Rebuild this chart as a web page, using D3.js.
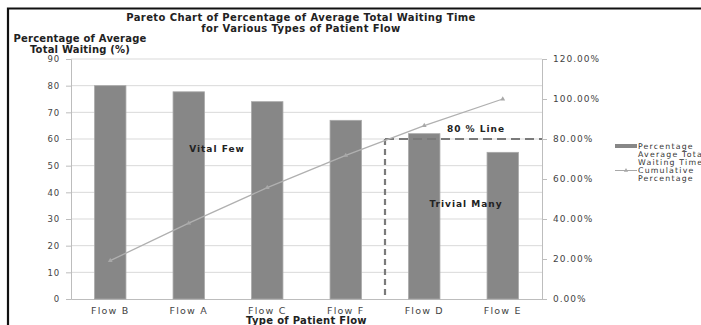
<!DOCTYPE html>
<html>
<head>
<meta charset="utf-8">
<script src="https://cdn.jsdelivr.net/npm/d3@7"></script>
<style>
  html, body { margin: 0; padding: 0; background: #fff; }
  svg { display: block; }
  text { font-family: "DejaVu Sans", Verdana, sans-serif; }
</style>
</head>
<body>
<svg id="chart" width="701" height="325"></svg>
<script>
// Patient flow types, sorted by share of total waiting time
const categories = ["Flow B", "Flow A", "Flow C", "Flow F", "Flow D", "Flow E"];
// Percentage of average total waiting time (%)
const waitingShare = [80, 77.7, 74, 67, 62, 55];
// Cumulative percentage (%)
const cumulative = [19.2, 37.9, 55.7, 71.8, 86.7, 100];
const leftTicks = [0, 10, 20, 30, 40, 50, 60, 70, 80, 90];
const rightTicks = [0, 20, 40, 60, 80, 100, 120];
const cutoff = 80;            // 80 % reference line
const cutoffAfter = "Flow F"; // boundary of the vital few

const svg = d3.select("#chart");
const m = { left: 71, right: 542, top: 59, bottom: 299 };

const x = d3.scaleBand().domain(categories).range([m.left, m.right]).paddingInner(0.6).paddingOuter(0.3);
const y = d3.scaleLinear().domain([0, 90]).range([m.bottom, m.top]);
const y2 = d3.scaleLinear().domain([0, 120]).range([m.bottom, m.top]);

// frame
svg.append("path").attr("d", "M8,325 V8.5 H701")
  .attr("fill", "none").attr("stroke", "#111").attr("stroke-width", 2.2);

// titles
const title = svg.append("text").attr("text-anchor", "middle")
  .attr("font-size", 10).attr("font-weight", "bold").attr("fill", "#222")
  .attr("letter-spacing", 0.4);
title.append("tspan").attr("x", 301).attr("y", 21).text("Pareto Chart of Percentage of Average Total Waiting Time");
title.append("tspan").attr("x", 301).attr("y", 32).text("for Various Types of Patient Flow");

const yTitle = svg.append("text").attr("text-anchor", "middle")
  .attr("font-size", 10).attr("font-weight", "bold").attr("fill", "#222")
  .attr("letter-spacing", 0.2);
yTitle.append("tspan").attr("x", 80).attr("y", 42).text("Percentage of Average");
yTitle.append("tspan").attr("x", 80).attr("y", 53).text("Total Waiting (%)");

// gridlines
svg.append("g").selectAll("line").data(leftTicks.filter(d => d > 0)).join("line")
  .attr("x1", m.left).attr("x2", m.right)
  .attr("y1", d => y(d)).attr("y2", d => y(d))
  .attr("stroke", "#d9d9d9").attr("stroke-width", 1);

const styleTicks = (g, size, ls) => g.selectAll(".tick text")
  .attr("font-size", size).attr("fill", "#444").attr("letter-spacing", ls)
  .attr("font-family", "'DejaVu Sans', sans-serif");

// left axis
const gl = svg.append("g").attr("transform", `translate(${m.left},0)`)
  .call(d3.axisLeft(y).tickValues(leftTicks).tickSize(5).tickPadding(6));
gl.select(".domain").attr("stroke", "#bdbdbd");
gl.selectAll(".tick line").attr("stroke", "#bdbdbd");
styleTicks(gl, 8.5, 0.8);

// right axis
const gr = svg.append("g").attr("transform", `translate(${m.right},0)`)
  .call(d3.axisRight(y2).tickValues(rightTicks).tickSize(5).tickPadding(6)
    .tickFormat(d => d.toFixed(2) + "%"));
gr.select(".domain").attr("stroke", "#bdbdbd");
gr.selectAll(".tick line").attr("stroke", "#bdbdbd");
styleTicks(gr, 9, 1);

// bottom axis
const gb = svg.append("g").attr("transform", `translate(0,${m.bottom})`)
  .call(d3.axisBottom(x).tickSize(0).tickPadding(8));
gb.select(".domain").attr("stroke", "#bdbdbd");
styleTicks(gb, 9.5, 1.2);

svg.append("text").attr("x", (m.left + m.right) / 2).attr("y", 324)
  .attr("text-anchor", "middle").attr("font-size", 10).attr("font-weight", "bold")
  .attr("letter-spacing", 0.3).attr("fill", "#222").text("Type of Patient Flow");

// bars
svg.append("g").selectAll("rect").data(categories).join("rect")
  .attr("x", d => x(d)).attr("width", x.bandwidth())
  .attr("y", (d, i) => y(waitingShare[i]))
  .attr("height", (d, i) => m.bottom - y(waitingShare[i]))
  .attr("fill", "#878787").attr("stroke", "#a8a8a8").attr("stroke-width", 0.8);

// 80 % reference lines
const xCut = x(cutoffAfter) + x.bandwidth() + x.step() * x.paddingInner() / 2;
svg.append("line").attr("x1", xCut).attr("x2", xCut)
  .attr("y1", y2(cutoff)).attr("y2", m.bottom)
  .attr("stroke", "#7a7a7a").attr("stroke-width", 2.2).attr("stroke-dasharray", "6,4");
svg.append("line").attr("x1", xCut).attr("x2", m.right)
  .attr("y1", y2(cutoff)).attr("y2", y2(cutoff))
  .attr("stroke", "#7a7a7a").attr("stroke-width", 2.2).attr("stroke-dasharray", "9,5");

// cumulative line
const cx = d => x(d) + x.bandwidth() / 2;
svg.append("path").datum(categories)
  .attr("d", d3.line().x(cx).y((d, i) => y2(cumulative[i])))
  .attr("fill", "none").attr("stroke", "#b0b0b0").attr("stroke-width", 1.3);
svg.append("g").selectAll("path").data(categories).join("path")
  .attr("transform", (d, i) => `translate(${cx(d)},${y2(cumulative[i])})`)
  .attr("d", d3.symbol(d3.symbolTriangle, 10))
  .attr("fill", "#a8a8a8");

// annotations
const note = (tx, ty, t) => svg.append("text").attr("x", tx).attr("y", ty)
  .attr("text-anchor", "middle").attr("font-size", 9).attr("font-weight", "bold")
  .attr("letter-spacing", 1).attr("fill", "#222").text(t);
note(217, 152, "Vital Few");
note(476, 132, "80 % Line");
note(466, 207, "Trivial Many");

// legend
const lg = svg.append("g");
lg.append("rect").attr("x", 615).attr("y", 144).attr("width", 22).attr("height", 4).attr("fill", "#878787");
lg.append("line").attr("x1", 615).attr("x2", 637).attr("y1", 170.5).attr("y2", 170.5)
  .attr("stroke", "#a8a8a8").attr("stroke-width", 1);
lg.append("path").attr("transform", "translate(626,170.5)")
  .attr("d", d3.symbol(d3.symbolTriangle, 8)).attr("fill", "#a8a8a8");
const legendLines = ["Percentage", "Average Total", "Waiting Time", "Cumulative", "Percentage"];
lg.append("text").attr("font-size", 7.8).attr("fill", "#333").attr("letter-spacing", 1.2)
  .selectAll("tspan").data(legendLines).join("tspan")
  .attr("x", 638).attr("y", (d, i) => 148.5 + i * 8.1).text(d => d);
</script>
</body>
</html>
